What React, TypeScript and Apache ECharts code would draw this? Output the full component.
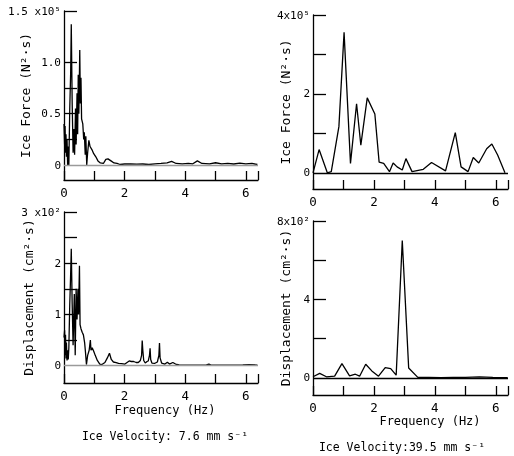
import React, { useEffect, useRef } from "react";
import * as echarts from "echarts";

// Top-left: ice force spectrum, ice velocity 7.6 mm/s (x10^5 N^2·s)
const tlFreq = [0, 0.02, 0.035, 0.05, 0.065, 0.08, 0.1, 0.12, 0.14, 0.16, 0.19, 0.22, 0.24, 0.27, 0.3, 0.33, 0.35, 0.38, 0.4, 0.43, 0.45, 0.47, 0.49, 0.52, 0.54, 0.56, 0.58, 0.62, 0.65, 0.67, 0.7, 0.72, 0.75, 0.78, 0.82, 0.86, 0.92, 0.98, 1.05, 1.12, 1.2, 1.3, 1.38, 1.45, 1.55, 1.65, 1.75, 1.85, 2.0, 2.2, 2.4, 2.6, 2.8, 3.0, 3.2, 3.4, 3.55, 3.7, 3.9, 4.1, 4.25, 4.4, 4.55, 4.8, 5.0, 5.2, 5.4, 5.6, 5.8, 6.0, 6.2, 6.38];
const tlForce = [0.4, 0.2, 0.38, 0.12, 0.3, 0.08, 0.25, 0.0, 0.18, 0.0, 0.55, 0.9, 1.37, 0.6, 0.12, 0.35, 0.1, 0.55, 0.2, 0.7, 0.3, 0.88, 0.5, 1.12, 0.6, 0.85, 0.45, 0.4, 0.25, 0.32, 0.1, 0.28, 0.0, 0.12, 0.24, 0.18, 0.15, 0.11, 0.08, 0.04, 0.02, 0.015, 0.055, 0.06, 0.04, 0.02, 0.015, 0.005, 0.01, 0.01, 0.008, 0.01, 0.005, 0.012, 0.015, 0.02, 0.035, 0.015, 0.012, 0.015, 0.012, 0.04, 0.015, 0.012, 0.022, 0.012, 0.015, 0.01, 0.018, 0.012, 0.015, 0.005];

// Top-right: ice force spectrum, ice velocity 39.5 mm/s (x10^5 N^2·s)
const trFreq = [0, 0.2, 0.47, 0.6, 0.85, 1.02, 1.23, 1.43, 1.57, 1.78, 2.03, 2.17, 2.32, 2.51, 2.63, 2.76, 2.93, 3.05, 3.25, 3.62, 3.89, 4.35, 4.67, 4.86, 5.09, 5.26, 5.44, 5.7, 5.87, 6.06, 6.3];
const trForce = [0, 0.59, 0, 0.03, 1.17, 3.56, 0.24, 1.75, 0.7, 1.9, 1.49, 0.27, 0.24, 0.03, 0.25, 0.15, 0.07, 0.36, 0.03, 0.09, 0.26, 0.05, 1.02, 0.15, 0.03, 0.39, 0.25, 0.61, 0.73, 0.45, 0];

// Bottom-left: displacement spectrum, 7.6 mm/s (x10^2 cm^2·s)
const blFreq = [0, 0.02, 0.035, 0.05, 0.065, 0.08, 0.1, 0.12, 0.14, 0.16, 0.19, 0.22, 0.24, 0.27, 0.3, 0.32, 0.34, 0.37, 0.4, 0.43, 0.46, 0.48, 0.51, 0.53, 0.56, 0.6, 0.64, 0.68, 0.71, 0.74, 0.78, 0.83, 0.87, 0.89, 0.93, 0.98, 1.03, 1.1, 1.18, 1.25, 1.35, 1.43, 1.5, 1.56, 1.63, 1.72, 1.8, 1.9, 2.01, 2.08, 2.15, 2.22, 2.3, 2.38, 2.45, 2.52, 2.56, 2.58, 2.6, 2.63, 2.68, 2.74, 2.78, 2.82, 2.84, 2.86, 2.9, 3.0, 3.08, 3.13, 3.15, 3.17, 3.22, 3.33, 3.41, 3.48, 3.59, 3.68, 3.8, 3.94, 4.2, 4.5, 4.7, 4.78, 4.85, 5.2, 5.6, 5.9, 6.1, 6.38];
const blDisp = [0.55, 0.69, 0.2, 0.6, 0.14, 0.45, 0.1, 0.3, 0.12, 0.35, 1.2, 1.8, 2.28, 1.2, 0.4, 0.9, 1.4, 0.2, 1.5, 0.9, 1.5, 1.0, 1.95, 0.8, 0.72, 0.65, 0.6, 0.45, 0.25, 0.02, 0.2, 0.3, 0.5, 0.3, 0.35, 0.28, 0.2, 0.1, 0.03, 0.02, 0.06, 0.15, 0.24, 0.12, 0.07, 0.06, 0.045, 0.04, 0.03, 0.06, 0.09, 0.08, 0.08, 0.06, 0.06, 0.1, 0.2, 0.49, 0.3, 0.1, 0.05, 0.08, 0.09, 0.2, 0.34, 0.12, 0.05, 0.045, 0.07, 0.2, 0.44, 0.15, 0.05, 0.03, 0.065, 0.03, 0.06, 0.03, 0.015, 0.01, 0.01, 0.008, 0.012, 0.03, 0.01, 0.008, 0.01, 0.015, 0.02, 0.01];

// Bottom-right: displacement spectrum, 39.5 mm/s (x10^2 cm^2·s)
const brFreq = [0, 0.22, 0.44, 0.71, 0.95, 1.2, 1.39, 1.53, 1.73, 1.93, 2.15, 2.37, 2.55, 2.73, 2.93, 3.14, 3.44, 3.8, 4.2, 4.6, 5.0, 5.46, 5.9, 6.39];
const brDisp = [0.05, 0.22, 0.05, 0.08, 0.72, 0.1, 0.18, 0.08, 0.69, 0.35, 0.08, 0.52, 0.47, 0.13, 7.0, 0.5, 0.02, 0.02, 0.01, 0.02, 0.02, 0.05, 0.02, 0];

const xLabels = [0, 2, 4, 6];

const INK = "#000";
const MONO = "DejaVu Sans Mono";

const pairs = (xs: number[], ys: number[]) => xs.map((x, i) => [x, ys[i]]);

const GRIDS = [
  { left: 64, top: 11, width: 194, height: 169 },
  { left: 313, top: 15, width: 195, height: 174 },
  { left: 64, top: 212, width: 194, height: 171 },
  { left: 313, top: 221, width: 195, height: 174 },
];

function xAxis(gridIndex: number) {
  return {
    type: "value", gridIndex, min: 0, max: 6.4, interval: 1, position: "bottom",
    axisLine: { show: true, onZero: false, lineStyle: { color: INK, width: 1.3 } },
    axisTick: { show: true, inside: true, length: 9, lineStyle: { color: INK, width: 1.3 } },
    axisLabel: { show: true, customValues: xLabels, margin: 6, fontSize: 12.5, color: INK, fontFamily: MONO },
    splitLine: { show: false },
  };
}

function yAxis(gridIndex: number, min: number, max: number, ticks: number[], labels: number[], fmt: (v: number) => string, name: string, nameGap: number) {
  return {
    type: "value", gridIndex, min, max, position: "left",
    axisLine: { show: true, onZero: false, lineStyle: { color: INK, width: 1.3 } },
    axisTick: { show: true, inside: true, length: 13, customValues: ticks, lineStyle: { color: INK, width: 1.3 } },
    axisLabel: { show: true, customValues: labels, formatter: fmt, margin: 3, fontSize: 11, color: INK, fontFamily: MONO },
    splitLine: { show: false },
    name, nameLocation: "middle", nameGap, nameRotate: 90, nameMoveOverlap: false,
    nameTextStyle: { fontSize: 13, color: INK, fontFamily: MONO },
  };
}

function lineSeries(idx: number, data: number[][], zeroColor: string) {
  return {
    type: "line", xAxisIndex: idx, yAxisIndex: idx, data,
    showSymbol: false,
    lineStyle: { color: INK, width: 1.3 },
    markLine: {
      silent: true, symbol: "none", label: { show: false },
      lineStyle: { color: zeroColor, type: "solid", width: 1.3 },
      data: [{ yAxis: 0 }],
    },
  };
}

export default function App() {
  const ref = useRef<HTMLDivElement>(null);
  useEffect(() => {
    if (!ref.current) return;
    const chart = echarts.init(ref.current, null, { renderer: "svg" });
    const option = {
      animation: false,
      grid: GRIDS.map((g) => ({ ...g, outerBoundsMode: "none" })),
      xAxis: [xAxis(0), xAxis(1), xAxis(2), xAxis(3)],
      yAxis: [
        yAxis(0, -0.146, 1.5, [0.25, 0.5, 0.75, 1, 1.5], [0, 0.5, 1, 1.5], (v: number) => (v === 1.5 ? "1.5 x10⁵" : v === 0 ? "0" : v.toFixed(1)), "Ice Force (N²·s)", 32),
        yAxis(1, -0.41, 4, [1, 2, 3, 4], [0, 2, 4], (v: number) => (v === 4 ? "4x10⁵" : String(v)), "Ice Force (N²·s)", 21),
        yAxis(2, -0.34, 3, [0.5, 1, 1.5, 2, 2.5, 3], [0, 1, 2, 3], (v: number) => (v === 3 ? "3 x10²" : String(v)), "Displacement (cm²·s)", 29),
        yAxis(3, -0.88, 8, [2, 4, 6, 8], [0, 4, 8], (v: number) => (v === 8 ? "8x10²" : String(v)), "Displacement (cm²·s)", 21),
      ],
      series: [
        lineSeries(0, pairs(tlFreq, tlForce), "#9a9a9a"),
        lineSeries(1, pairs(trFreq, trForce), INK),
        lineSeries(2, pairs(blFreq, blDisp), "#9a9a9a"),
        lineSeries(3, pairs(brFreq, brDisp), INK),
      ],
      graphic: [
        { type: "text", x: 165, y: 410, style: { text: "Frequency (Hz)", fill: INK, fontSize: 12, fontFamily: MONO, align: "center", verticalAlign: "middle" } },
        { type: "text", x: 165, y: 436, style: { text: "Ice Velocity: 7.6 mm s⁻¹", fill: INK, fontSize: 11.5, fontFamily: MONO, align: "center", verticalAlign: "middle" } },
        { type: "text", x: 430, y: 421, style: { text: "Frequency (Hz)", fill: INK, fontSize: 12, fontFamily: MONO, align: "center", verticalAlign: "middle" } },
        { type: "text", x: 402, y: 447, style: { text: "Ice Velocity:39.5 mm s⁻¹", fill: INK, fontSize: 11.5, fontFamily: MONO, align: "center", verticalAlign: "middle" } },
      ],
    };
    chart.setOption(option as any);
    return () => chart.dispose();
  }, []);
  return <div ref={ref} style={{ position: "fixed", left: 0, top: 0, width: 514, height: 456 }} />;
}
